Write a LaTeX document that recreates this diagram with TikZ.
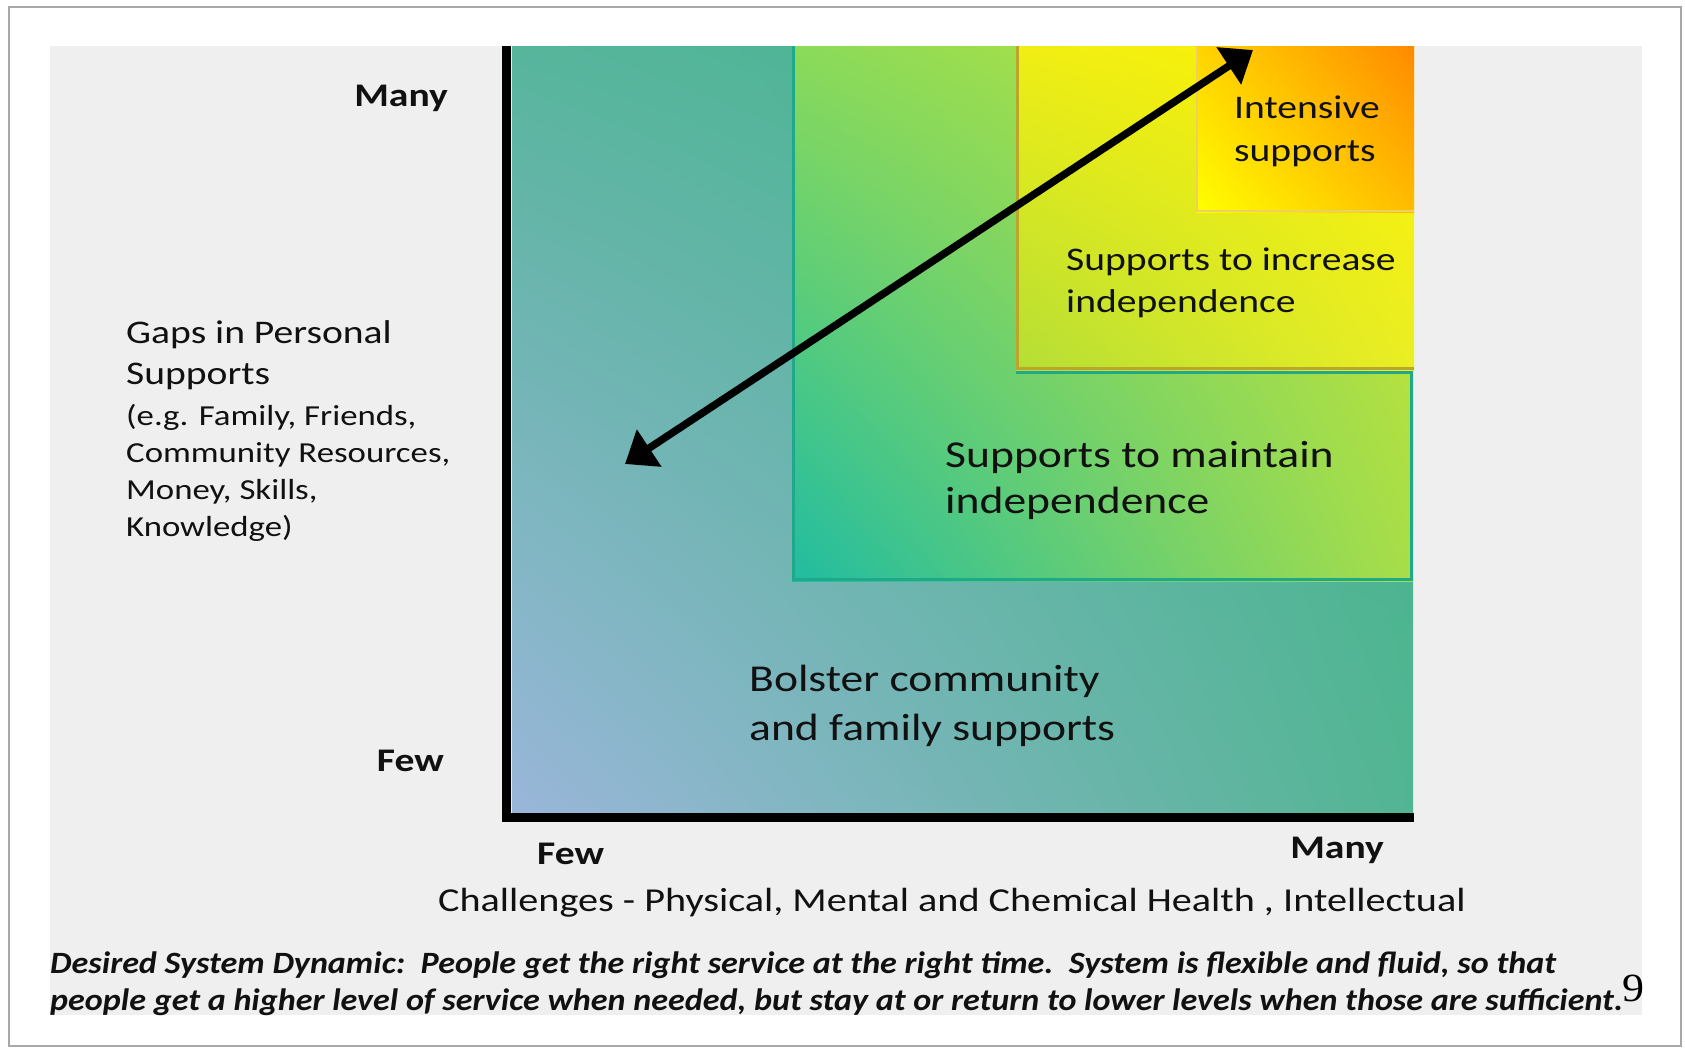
\documentclass[tikz,border=0pt]{standalone}
\usepackage{fontspec}
\setmainfont{Carlito}[FakeStretch=1.2]
\newfontfamily\footfamily{Carlito}[FakeStretch=1.1]
\newfontfamily\numfont{Liberation Serif}[FakeStretch=1.1]
\usetikzlibrary{arrows.meta,shadings}
\definecolor{panel}{HTML}{EFEFEF}
\definecolor{framec}{HTML}{A8A8A8}
\definecolor{aUL}{HTML}{57B59C}
\definecolor{aUR}{HTML}{3FB38A}
\definecolor{aLL}{HTML}{9AB6DA}
\definecolor{aLR}{HTML}{52B592}
\definecolor{bUL}{HTML}{8ADA5A}
\definecolor{bUR}{HTML}{C8E632}
\definecolor{bLL}{HTML}{20BCA2}
\definecolor{bLR}{HTML}{A8DE48}
\definecolor{bBorder}{HTML}{1FA98A}
\definecolor{cUL}{HTML}{F0EE14}
\definecolor{cUR}{HTML}{FFF200}
\definecolor{cLL}{HTML}{B4DE36}
\definecolor{cLR}{HTML}{EAEE24}
\definecolor{cBorder}{HTML}{BCA62A}
\definecolor{dUL}{HTML}{FFD400}
\definecolor{dUR}{HTML}{FF8A00}
\definecolor{dLL}{HTML}{FFFF00}
\definecolor{dLR}{HTML}{FFBC00}
\definecolor{dBorder}{HTML}{EED060}
\definecolor{ink}{HTML}{111111}
\begin{document}
\begin{tikzpicture}[x=1pt,y=-1pt,
  lbl/.style={anchor=base west, inner sep=0pt, text=ink},
  lblr/.style={anchor=base east, inner sep=0pt, text=ink},
  axfont/.style={font=\bfseries\fontsize{33}{40}\selectfont},
  midfont/.style={font=\fontsize{33}{40}\selectfont},
  bigfont/.style={font=\fontsize{38}{46}\selectfont},
  smallfont/.style={font=\fontsize{29}{35}\selectfont},
  footfont/.style={font=\footfamily\bfseries\itshape\fontsize{31}{36}\selectfont},
  axisline/.style={line width=9pt, black},
  edge2/.style={draw=bBorder, line width=3.5pt},
  edge3/.style={draw=cBorder, line width=3pt},
  edge4/.style={draw=dBorder, line width=2pt},
  bigarrow/.style={line width=7.5pt, black, {Triangle[length=29pt,width=43pt]}-{Triangle[length=29pt,width=43pt]}}
]
\useasboundingbox (0,0) rectangle (1685,1050);
\fill[white] (0,0) rectangle (1685,1050);
% frame
\draw[framec, line width=2pt, fill=white] (9,7) rectangle (1681,1046);
% grey panel
\fill[panel] (50,46) rectangle (1642,1015);
% layers
\shade[upper left=aUL, upper right=aUR, lower left=aLL, lower right=aLR] (512,46) rectangle (1413,813);
\shade[upper left=bUL, upper right=bUR, lower left=bLL, lower right=bLR] (792,46) rectangle (1413,581);
\draw[edge2] (793.5,46) -- (793.5,579.5) -- (1411.5,579.5) -- (1411.5,372);
\draw[edge2] (1016,372.5) -- (1413,372.5);
\shade[upper left=cUL, upper right=cUR, lower left=cLL, lower right=cLR] (1016,46) rectangle (1414,370);
\draw[edge3] (1017.5,46) -- (1017.5,368.5) -- (1414,368.5);
\shade[upper left=dUL, upper right=dUR, lower left=dLL, lower right=dLR] (1196,46) rectangle (1414,212);
\draw[edge4] (1197,46) -- (1197,211) -- (1414,211);
% axes
\draw[axisline] (506,46) -- (506,817) -- (1414,817);
% arrow
\coordinate (lowend) at (625,464);
\coordinate (highend) at (1253,50);
\draw[bigarrow] (lowend) -- (highend);
% axis labels
\node[lblr, axfont] (ymany) at (448,106) {Many};
\node[lblr, axfont] (yfew) at (444,771) {Few};
\node[lbl, axfont] (xfew) at (537,864) {Few};
\node[lblr, axfont] (xmany) at (1384,858) {Many};
\node[lbl, midfont, font=\fontsize{33.5}{40}\selectfont] (xtitle) at (438,911) {Challenges - Physical, Mental and Chemical Health , Intellectual};
% y title
\node[lbl, midfont] (yt1) at (126,343) {Gaps in Personal};
\node[lbl, midfont] (yt2) at (126,384) {Supports};
\node[lbl, smallfont] (yt3) at (126,425) {(e.g. Family, Friends,};
\node[lbl, smallfont] (yt4) at (126,462) {Community Resources,};
\node[lbl, smallfont] (yt5) at (126,499) {Money, Skills,};
\node[lbl, smallfont] (yt6) at (126,536) {Knowledge)};
% region labels
\node[lbl, midfont] (int1) at (1234,118) {Intensive};
\node[lbl, midfont] (int2) at (1234,161) {supports};
\node[lbl, midfont] (inc1) at (1066,270) {Supports to increase};
\node[lbl, midfont] (inc2) at (1066,312) {independence};
\node[lbl, bigfont] (mnt1) at (945,467) {Supports to maintain};
\node[lbl, bigfont] (mnt2) at (945,513) {independence};
\node[lbl, bigfont] (bol1) at (749,691) {Bolster community};
\node[lbl, bigfont] (bol2) at (749,740) {and family supports};
% footer
\node[lbl, footfont] (foot1) at (50,973) {Desired System Dynamic:\ \ People get the right service at the right time.\ \ System is flexible and fluid, so that};
\node[lbl, footfont] (foot2) at (50,1010) {people get a higher level of service when needed, but stay at or return to lower levels when those are sufficient.};
\node[anchor=base, inner sep=0pt, font=\numfont\fontsize{40}{44}\selectfont] (pagenum) at (1633,1001) {9};
\end{tikzpicture}
\end{document}
